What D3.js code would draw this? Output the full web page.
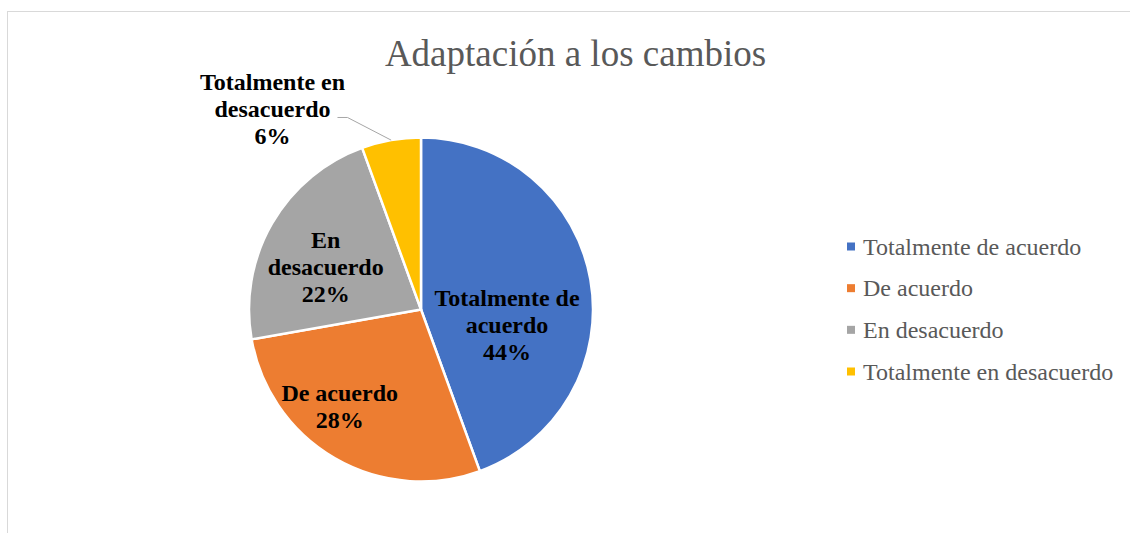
<!DOCTYPE html>
<html>
<head>
<meta charset="utf-8">
<script src="https://cdn.jsdelivr.net/npm/d3@7"></script>
<style>
  body { margin: 0; background: #fff; }
  svg { display: block; }
  text { font-family: "Liberation Serif", "Times New Roman", "DejaVu Serif", serif; }
</style>
</head>
<body>
<svg width="1130" height="533"></svg>
<script>
// counts from the survey (8/5/4/1 of 18)
const categories = ["Totalmente de acuerdo", "De acuerdo", "En desacuerdo", "Totalmente en desacuerdo"]
const counts = [8, 5, 4, 1]
const colors = ["#4472c4", "#ed7d31", "#a5a5a5", "#ffc000"]
// label text lines (Excel wraps them)
const labelLines = [
  ["Totalmente de", "acuerdo"],
  ["De acuerdo"],
  ["En", "desacuerdo"],
  ["Totalmente en", "desacuerdo"]
]
// nudges from the centroid, like the "best fit" placement
const labelShift = [[-19, 35], [-28, 6], [-3, 12], [-130, -94]]

const svg = d3.select("svg")
const cx = 421, cy = 309.5, r = 172

// chart frame
svg.append("rect")
  .attr("x", 7.5).attr("y", 11.5)
  .attr("width", 1140).attr("height", 540)
  .attr("fill", "none")
  .attr("stroke", "#d9d9d9")
  .attr("stroke-width", 1)

svg.append("text")
  .attr("x", 575.5).attr("y", 66)
  .attr("text-anchor", "middle")
  .attr("font-size", "37px")
  .attr("fill", "#595959")
  .text("Adaptación a los cambios")

const total = d3.sum(counts)
const pie = d3.pie().sort(null).value(d => d)
const arcs = pie(counts)
const arc = d3.arc().innerRadius(0).outerRadius(r)
const labelArc = d3.arc().innerRadius(r * 0.62).outerRadius(r * 0.62)

const g = svg.append("g").attr("transform", `translate(${cx},${cy})`)

g.selectAll("path")
  .data(arcs)
  .enter()
  .append("path")
  .attr("d", arc)
  .attr("fill", (d, i) => colors[i])
  .attr("stroke", "#fff")
  .attr("stroke-width", 2.5)
  .attr("stroke-linejoin", "round")

// leader line for the small slice
const small = arcs[3]
const mid = (small.startAngle + small.endAngle) / 2
const edge = [Math.sin(mid) * r, -Math.cos(mid) * r]
const lc = labelArc.centroid(small)
const lx = lc[0] + labelShift[3][0], ly = lc[1] + labelShift[3][1]
g.append("polyline")
  .attr("points", [[lx + 65, ly + 7], [lx + 75, ly + 7], edge].map(p => p.join(",")).join(" "))
  .attr("fill", "none")
  .attr("stroke", "#a6a6a6")
  .attr("stroke-width", 1)

const lineH = 27
arcs.forEach((d, i) => {
  const c = labelArc.centroid(d)
  const x = c[0] + labelShift[i][0]
  const y = c[1] + labelShift[i][1]
  const lines = labelLines[i].concat([Math.round(counts[i] / total * 100) + "%"])
  const t = g.append("text")
    .attr("text-anchor", "middle")
    .attr("font-size", "24px")
    .attr("font-weight", "bold")
    .attr("fill", "#000")
  lines.forEach((s, k) => {
    t.append("tspan")
      .attr("x", x)
      .attr("y", y + (k - (lines.length - 1) / 2) * lineH + 7)
      .text(s)
  })
})

// legend
const legendY = d3.scalePoint().domain(categories).range([246.5, 371.5])
const legend = svg.selectAll("g.leg")
  .data(categories)
  .enter()
  .append("g")
  .attr("class", "leg")
  .attr("transform", d => `translate(847,${legendY(d)})`)

legend.append("rect")
  .attr("x", 0).attr("y", -4)
  .attr("width", 8).attr("height", 8)
  .attr("fill", (d, i) => colors[i])

legend.append("text")
  .attr("x", 16).attr("y", 8)
  .attr("font-size", "24px")
  .attr("fill", "#595959")
  .text(d => d)
</script>
</body>
</html>
